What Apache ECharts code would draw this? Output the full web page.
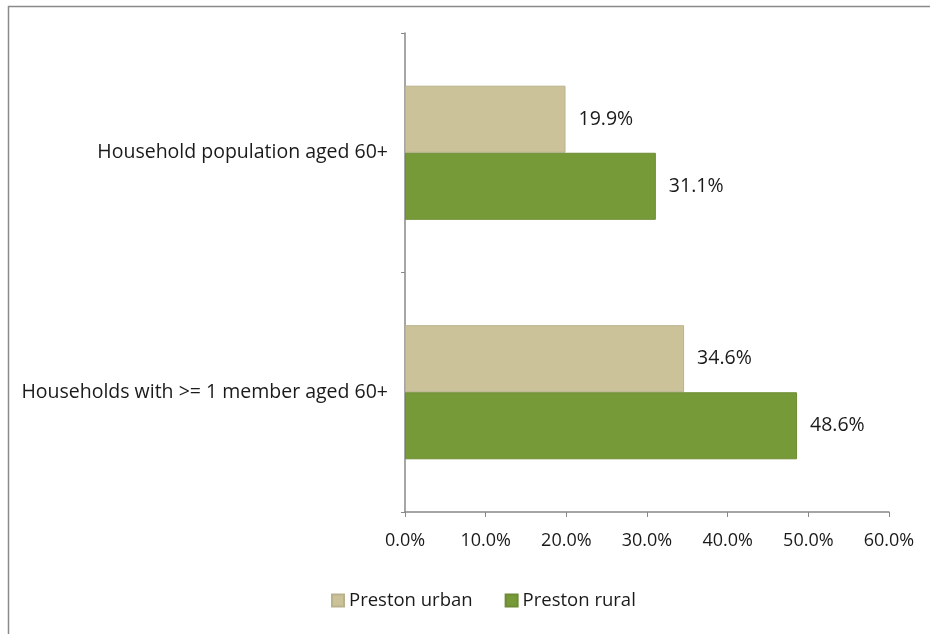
<!DOCTYPE html>
<html><head><meta charset="utf-8">
<script src="https://cdn.jsdelivr.net/npm/echarts@6/dist/echarts.min.js"></script>
<style>html,body{margin:0;padding:0;background:#fff}#c{width:930px;height:634px}</style>
</head><body><div id="c"></div>
<script>
const categories = ["Household population aged 60+", "Households with >= 1 member aged 60+"];
const seriesNames = ["Preston urban", "Preston rural"];
const urbanValues = [19.9, 34.6];
const ruralValues = [31.1, 48.6];
const xTicks = [0, 10, 20, 30, 40, 50, 60];

const FONT = "Open Sans";
const chart = echarts.init(document.getElementById('c'), null, {renderer: 'canvas'});
const lbl = {show: true, position: 'right', distance: 13, color: '#1a1a1a', fontFamily: FONT, fontSize: 19.5,
  formatter: p => p.value.toFixed(1) + '%'};
chart.setOption({
  animation: false,
  backgroundColor: '#fff',
  graphic: [{type: 'rect', left: 6, top: 4, shape: {width: 923, height: 629}, silent: true,
    style: {fill: 'none', stroke: '#8a8a8a', lineWidth: 1.5}}],
  grid: {left: 405, right: 41, top: 33, bottom: 122, containLabel: false},
  legend: {
    data: seriesNames, bottom: 19, left: 326, itemWidth: 12, itemHeight: 12, itemGap: 32,
    icon: 'rect', textStyle: {fontFamily: FONT, fontSize: 18.5, color: '#1a1a1a'}
  },
  xAxis: {
    type: 'value', min: xTicks[0], max: xTicks[xTicks.length - 1], interval: 10,
    axisLine: {show: true, lineStyle: {color: '#888', width: 1.5}},
    axisTick: {show: true, length: 5, lineStyle: {color: '#888'}},
    splitLine: {show: false},
    axisLabel: {margin: 20, fontFamily: FONT, fontSize: 18, color: '#1a1a1a', formatter: v => v.toFixed(1) + '%'}
  },
  yAxis: {
    type: 'category', data: categories, inverse: true,
    axisLine: {show: true, lineStyle: {color: '#888', width: 1.5}},
    axisTick: {show: true, length: 4, lineStyle: {color: '#888'}},
    axisLabel: {margin: 17, fontFamily: FONT, fontSize: 19.5, color: '#1a1a1a'}
  },
  series: [
    {name: seriesNames[0], type: 'bar', data: urbanValues, barGap: '0%', barCategoryGap: '44%',
     itemStyle: {color: '#CBC299', borderColor: '#b9b28c', borderWidth: 1}, label: lbl},
    {name: seriesNames[1], type: 'bar', data: ruralValues, barGap: '0%', barCategoryGap: '44%',
     itemStyle: {color: '#779A38', borderColor: '#6e8c35', borderWidth: 1}, label: lbl}
  ]
});
</script></body></html>
